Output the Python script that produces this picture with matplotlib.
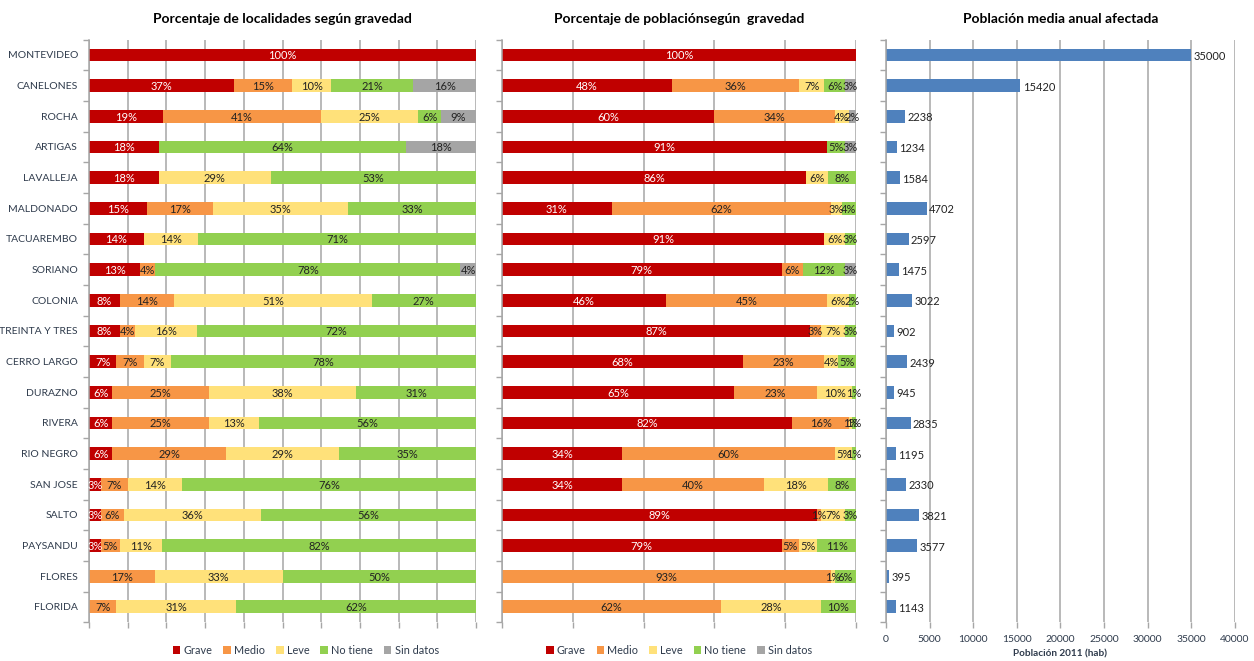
import matplotlib.pyplot as plt
import numpy as np

plt.rcParams['font.family'] = ['Lato', 'DejaVu Sans']

departamentos = ['MONTEVIDEO', 'CANELONES', 'ROCHA', 'ARTIGAS', 'LAVALLEJA', 'MALDONADO',
                 'TACUAREMBO', 'SORIANO', 'COLONIA', 'TREINTA Y TRES', 'CERRO LARGO',
                 'DURAZNO', 'RIVERA', 'RIO NEGRO', 'SAN JOSE', 'SALTO', 'PAYSANDU',
                 'FLORES', 'FLORIDA']
niveles = ['Grave', 'Medio', 'Leve', 'No tiene', 'Sin datos']
colores = ['#C00000', '#F79646', '#FFE17A', '#92D050', '#A5A5A5']
texto_color = ['white', '#222222', '#222222', '#222222', '#222222']

# % de localidades por nivel de gravedad (Grave, Medio, Leve, No tiene, Sin datos)
loc_grave = [100, 37, 19, 18, 18, 15, 14, 13, 8, 8, 7, 6, 6, 6, 3, 3, 3, 0, 0]
loc_medio = [0, 15, 41, 0, 0, 17, 0, 4, 14, 4, 7, 25, 25, 29, 7, 6, 5, 17, 7]
loc_leve = [0, 10, 25, 0, 29, 35, 14, 0, 51, 16, 7, 38, 13, 29, 14, 36, 11, 33, 31]
loc_notiene = [0, 21, 6, 64, 53, 33, 71, 78, 27, 72, 78, 31, 56, 35, 76, 56, 82, 50, 62]
loc_sindatos = [0, 16, 9, 18, 0, 0, 0, 4, 0, 0, 0, 0, 0, 0, 0, 0, 0, 0, 0]

# % de poblacion por nivel de gravedad
pob_grave = [100, 48, 60, 91, 86, 31, 91, 79, 46, 87, 68, 65, 82, 34, 34, 89, 79, 0, 0]
pob_medio = [0, 36, 34, 0, 0, 62, 0, 6, 45, 3, 23, 23, 16, 60, 40, 1, 5, 93, 62]
pob_leve = [0, 7, 4, 0, 6, 3, 6, 0, 6, 7, 4, 10, 1, 5, 18, 7, 5, 1, 28]
pob_notiene = [0, 6, 0, 5, 8, 4, 3, 12, 2, 3, 5, 1, 1, 1, 8, 3, 11, 6, 10]
pob_sindatos = [0, 3, 2, 3, 0, 0, 0, 3, 0, 0, 0, 0, 0, 0, 0, 0, 0, 0, 0]

# poblacion media anual afectada (hab)
poblacion = [35000, 15420, 2238, 1234, 1584, 4702, 2597, 1475, 3022, 902,
             2439, 945, 2835, 1195, 2330, 3821, 3577, 395, 1143]

GRID = '#A6A6A6'
TXT = '#2F3B4C'


def estilo_ejes(ax):
    ax.set_ylim(len(departamentos) - 0.5, -0.5)
    ax.set_axisbelow(True)
    ax.xaxis.grid(True, color=GRID, linewidth=1.1)
    for lado in ['top', 'right', 'bottom']:
        ax.spines[lado].set_visible(False)
    ax.spines['left'].set_color(GRID)
    ax.spines['left'].set_linewidth(1.1)
    ax.tick_params(axis='x', colors=GRID, length=4, width=1, labelcolor=TXT, labelsize=7.5)
    ax.set_yticks(np.arange(len(departamentos)))
    ax.set_yticks(np.arange(len(departamentos) + 1) - 0.5, minor=True)
    ax.tick_params(axis='y', which='major', length=0, labelsize=7.5, labelcolor=TXT, pad=8)
    ax.tick_params(axis='y', which='minor', length=4, color=GRID, width=1)


def barras_apiladas(ax, series, titulo, centro_leyenda):
    datos = np.array(series, dtype=float)
    totales = datos.sum(axis=0)
    partes = datos / totales * 100
    y = np.arange(len(departamentos))
    izq = np.zeros(len(departamentos))
    for i, nivel in enumerate(niveles):
        ax.barh(y, partes[i], left=izq, height=0.42, color=colores[i], label=nivel)
        for j in range(len(departamentos)):
            v = datos[i, j]
            if v > 0:
                ax.text(izq[j] + partes[i, j] / 2, y[j] + 0.03, f'{int(v)}%', ha='center',
                        va='center', fontsize=8, color=texto_color[i])
        izq += partes[i]
    ax.set_xlim(0, 100)
    ax.set_title(titulo, fontsize=10, fontweight='bold', pad=12)
    ax.legend(loc='upper center', bbox_to_anchor=(centro_leyenda, -0.022), ncol=5,
              frameon=False, fontsize=7.8, handlelength=0.7, handleheight=0.7,
              handletextpad=0.3, columnspacing=1.0, labelcolor=TXT)


fig = plt.figure(figsize=(12.54, 6.61), dpi=100)
ax1 = fig.add_axes([0.071, 0.0586, 0.3086, 0.8814])
ax2 = fig.add_axes([0.4003, 0.0586, 0.2823, 0.8814])
ax3 = fig.add_axes([0.7065, 0.0586, 0.2783, 0.8814])

estilo_ejes(ax1)
barras_apiladas(ax1, [loc_grave, loc_medio, loc_leve, loc_notiene, loc_sindatos],
                'Porcentaje de localidades según gravedad', 0.56)
ax1.set_xticks(np.arange(0, 101, 10))
ax1.set_xticklabels([])
ax1.set_yticklabels(departamentos)

estilo_ejes(ax2)
barras_apiladas(ax2, [pob_grave, pob_medio, pob_leve, pob_notiene, pob_sindatos],
                'Porcentaje de poblaciónsegún  gravedad', 0.5)
ax2.set_xticks(np.arange(0, 101, 20))
ax2.set_xticklabels([])
ax2.set_yticklabels([])

estilo_ejes(ax3)
y = np.arange(len(departamentos))
ax3.barh(y, poblacion, height=0.42, color='#4F81BD')
for j, v in enumerate(poblacion):
    ax3.text(v + 250, y[j] + 0.05, str(v), ha='left', va='center', fontsize=8, color='#222222')
ax3.set_xlim(0, 40000)
ax3.set_xticks(np.arange(0, 40001, 5000))
ax3.set_yticklabels([])
ax3.tick_params(axis='x', pad=5)
ax3.set_title('Población media anual afectada', fontsize=10, fontweight='bold', pad=12)
ax3.set_xlabel('Población 2011 (hab)', fontsize=7.2, fontweight='bold', color=TXT, labelpad=4)

fig.savefig('out.png', dpi=100, facecolor='white')
